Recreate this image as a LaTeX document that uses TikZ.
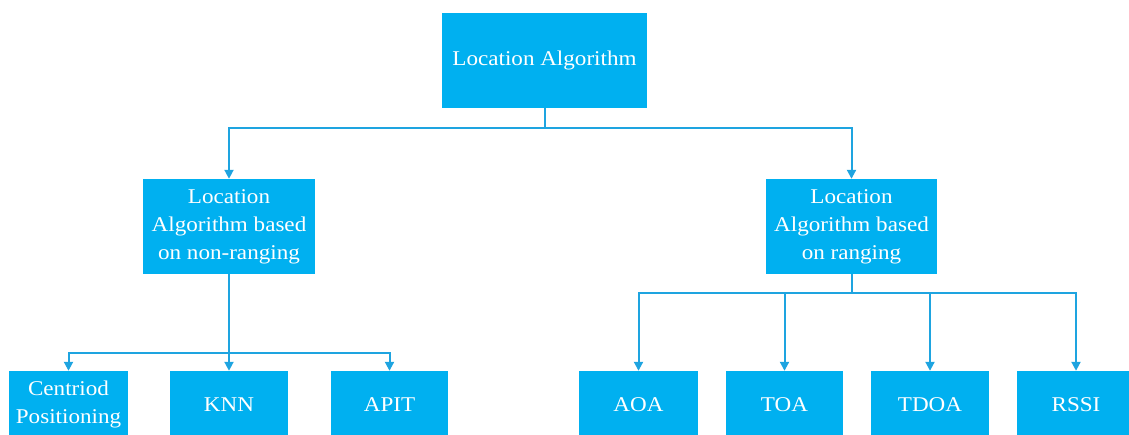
\documentclass[tikz,border=0pt]{standalone}
\usepackage{fontspec}
\setmainfont{Liberation Serif}
\newfontfamily\boxfont[FakeStretch=1.1]{Liberation Serif}
\usetikzlibrary{arrows.meta}
\definecolor{boxblue}{RGB}{0,176,240}
\definecolor{linkblue}{RGB}{30,164,224}
\begin{document}
\begin{tikzpicture}[x=1pt,y=-1pt,
  algbox/.style={fill=boxblue, draw=none, text=white, inner sep=0pt,
    align=center, font=\boxfont\fontsize{21}{28}\selectfont},
  link/.style={draw=linkblue, line width=2pt},
  arrowlink/.style={link, -{Triangle[length=9pt,width=9pt]}}]
\useasboundingbox (0,0) rectangle (1129,435);
\clip (0,0) rectangle (1129,435);

% root
\node[algbox, minimum width=205pt, minimum height=95pt] (root) at (544.5,60.5) {Location Algorithm};

% second level
\node[algbox, minimum width=172pt, minimum height=95pt] (nonrng) at (229,226.5)
  {Location\\Algorithm based\\on non-ranging};
\node[algbox, minimum width=171pt, minimum height=95pt] (rng) at (851.5,226.5)
  {Location\\Algorithm based\\on ranging};

% leaves (cut by the lower edge)
\tikzset{leaf/.style={algbox, minimum height=67pt}}
\node[leaf, minimum width=119pt] (centroid) at (68.5,404.5) {Centriod\\Positioning};
\node[leaf, minimum width=118pt] (knn) at (229,404.5) {KNN};
\node[leaf, minimum width=117pt] (apit) at (389.5,404.5) {APIT};
\node[leaf, minimum width=119pt] (aoa) at (638.5,404.5) {AOA};
\node[leaf, minimum width=117pt] (toa) at (784.5,404.5) {TOA};
\node[leaf, minimum width=118pt] (tdoa) at (930,404.5) {TDOA};
\node[leaf, minimum width=118pt] (rssi) at (1076,404.5) {RSSI};

% bus junctions
\coordinate (j0) at (544.5,128);
\coordinate (j1) at (229,353);
\coordinate (j2) at (851.5,293);

% root to second level
\draw[link] (root.south) -- (j0);
\draw[arrowlink] (j0) -| (nonrng.north);
\draw[arrowlink] (j0) -| (rng.north);

% non-ranging branch
\draw[link] (nonrng.south) -- (j1);
\draw[arrowlink] (j1) -| (centroid.north);
\draw[arrowlink] (j1) -- (knn.north);
\draw[arrowlink] (j1) -| (apit.north);

% ranging branch
\draw[link] (rng.south) -- (j2);
\draw[arrowlink] (j2) -| (aoa.north);
\draw[arrowlink] (j2) -| (toa.north);
\draw[arrowlink] (j2) -| (tdoa.north);
\draw[arrowlink] (j2) -| (rssi.north);
\end{tikzpicture}
\end{document}
